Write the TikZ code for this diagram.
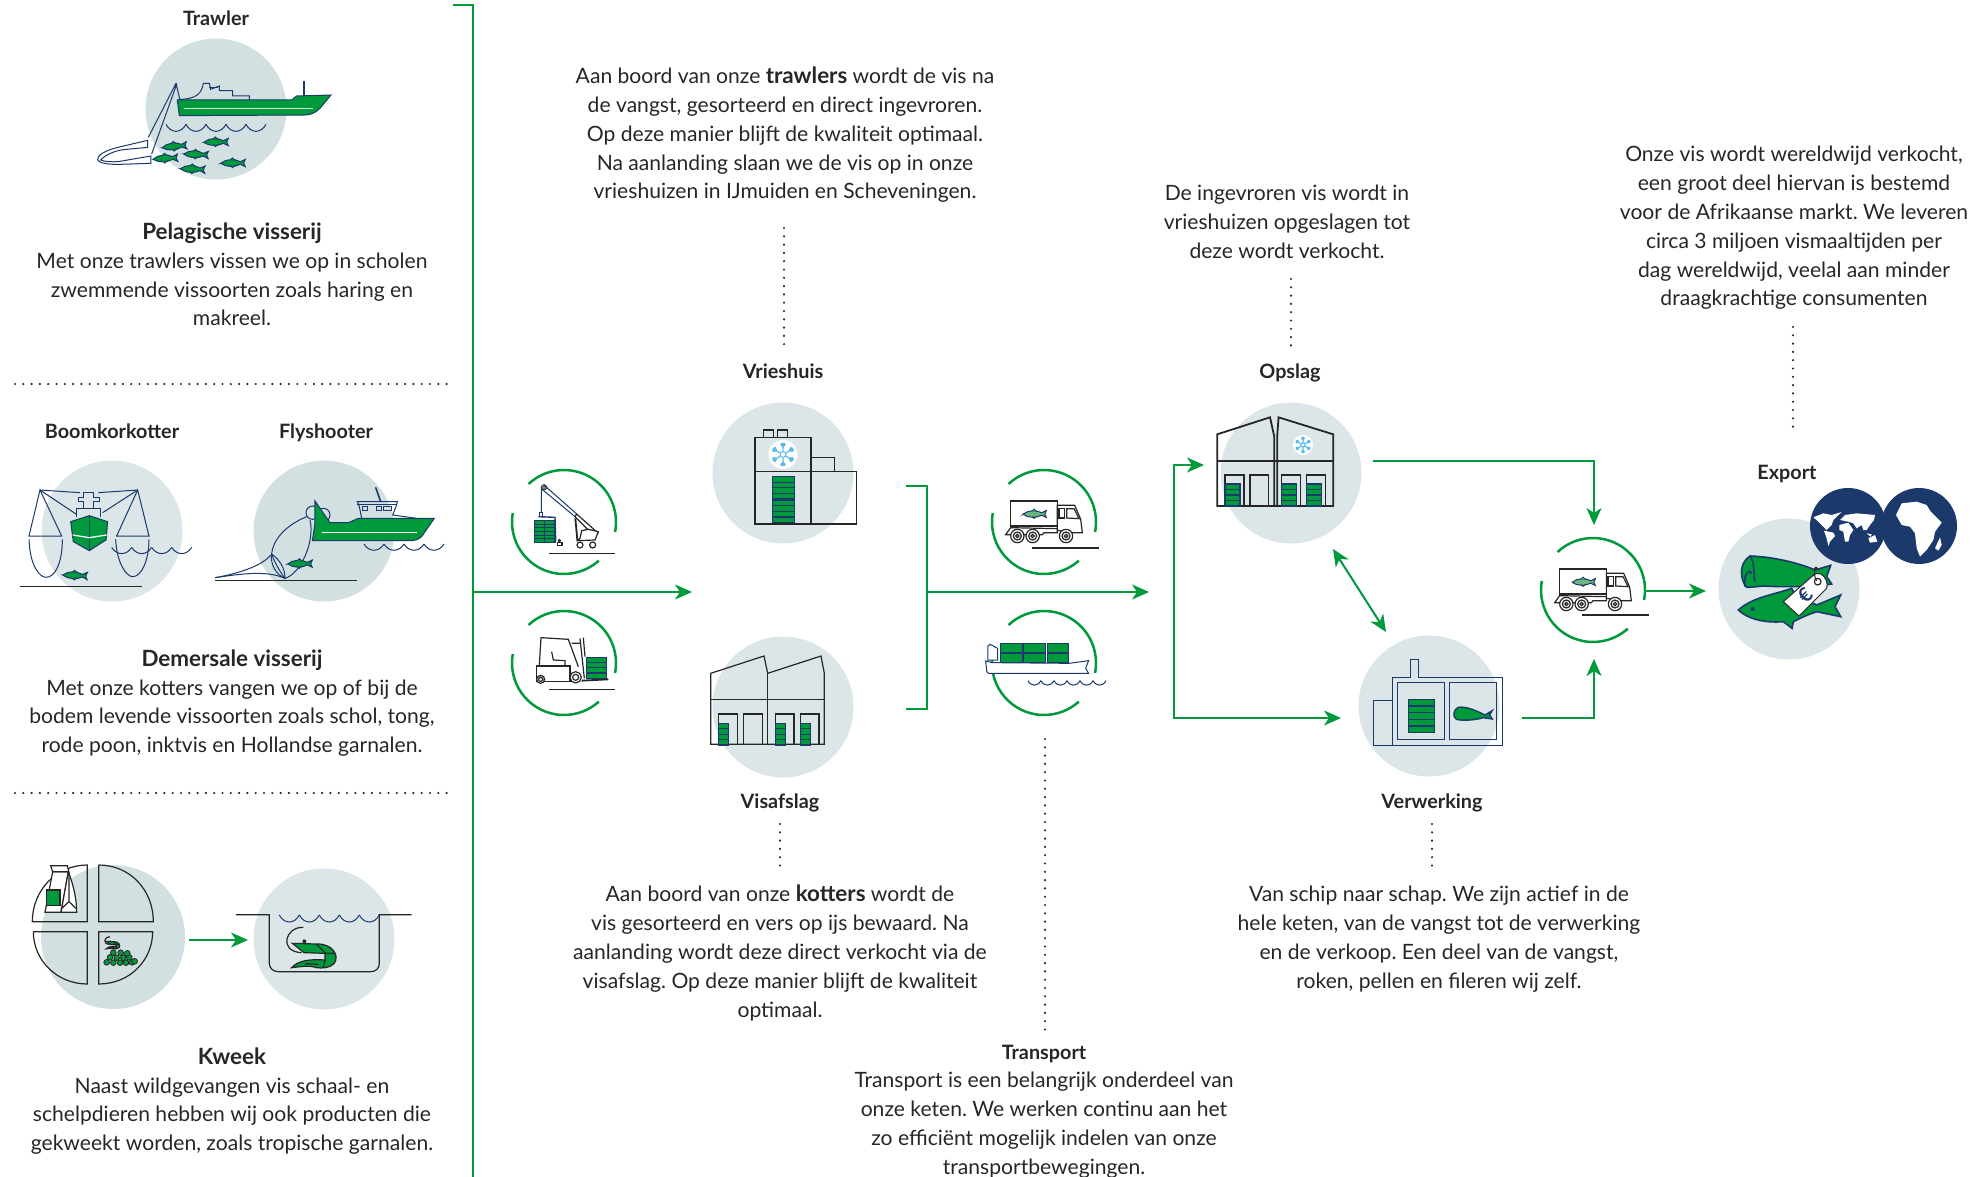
\documentclass[tikz,border=0pt]{standalone}
\usepackage{fontspec}
\setmainfont{Lato}
\usetikzlibrary{arrows.meta,calc}
\definecolor{gr}{HTML}{009A3D}
\definecolor{nv}{HTML}{1B3A6B}
\definecolor{dk}{HTML}{262626}
\definecolor{disc1}{HTML}{D3E0E2}
\definecolor{disc2}{HTML}{DCE5E8}
\definecolor{sky}{HTML}{5BBCEB}
\definecolor{lgr}{HTML}{6DB57F}
\newcommand{\bb}[1]{{\fontsize{11.2}{14.4}\selectfont\bfseries #1}}
\tikzset{
 txt/.style={align=center,inner sep=0pt,text=dk,font=\fontsize{10.55}{14.4}\selectfont\frenchspacing},
 lab/.style={inner sep=0pt,text=dk,text height=9.5pt,text depth=2pt,font=\fontsize{9.9}{11}\selectfont\bfseries},
 disc/.style={circle,inner sep=0pt,minimum size=70.5pt,fill=#1},
 disc/.default=disc2,
 flow/.style={draw=gr,line width=1pt,-{Stealth[length=8.5pt,width=7.5pt,inset=2.5pt]}},
 flowtwo/.style={draw=gr,line width=1pt,{Stealth[length=8.5pt,width=7.5pt,inset=2.5pt]}-{Stealth[length=8.5pt,width=7.5pt,inset=2.5pt]}},
 plain/.style={draw=gr,line width=1pt},
 ringline/.style={draw=gr,line width=1.25pt},
 dots/.style={draw=dk,line width=1.2pt,line cap=round,dash pattern=on 0pt off 4.15pt},
 nl/.style={draw=nv,line width=.5pt},
 dl/.style={draw=dk,line width=.6pt},
 za/.style={shift={(0,0)},scale=.33333},
 zb/.style={shift={(0,400)},scale=.33333},
 zc/.style={shift={(0,800)},scale=.33333},
 zd/.style={shift={(470,370)},scale=.33333},
 ze/.style={shift={(960,370)},xscale=.35714,yscale=.33333},
 zg/.style={shift={(1720,480)},scale=.33333},
}
\newcommand{\fishicon}[5]{\begin{scope}[shift={(#1,#2)},scale=#3,rotate=#4]
 \draw[nl,fill=#5] (-37,2) .. controls (-20,-12) and (5,-12) .. (22,-3) -- (37,-10) -- (32,2) -- (37,12) -- (22,5) .. controls (5,14) and (-20,14) .. cycle;
 \draw[nl,fill=#5] (-8,-8) -- (-2,-14) -- (6,-7); \draw[nl,fill=#5] (-6,9) -- (-2,15) -- (6,8);
\end{scope}}
\newcommand{\stackbox}[5]{\draw[nl,fill=gr,line width=.6pt] (#1,#2) rectangle (#3,#4);
 \pgfmathtruncatemacro\nnk{#5-1}\foreach \k in {1,...,\nnk}{\draw[nl,line width=.6pt] ({#1},{#2+(#4-#2)*\k/#5}) -- ({#3},{#2+(#4-#2)*\k/#5});}}
\newcommand{\wavy}[5]{\foreach \k in {1,...,#3}{\draw[nl] ({#1+(\k-1)*#4},#2) .. controls ({#1+(\k-1)*#4+#4*.25},{#2+#5}) and ({#1+(\k-1)*#4+#4*.75},{#2+#5}) .. ({#1+\k*#4},#2);}}
\newcommand{\ringicon}[3]{\begin{scope}[shift={(#2,#3)}]
 \coordinate (#1) at (0,0);
 \draw[ringline] (133:26pt) arc[start angle=133,end angle=-11,radius=26pt];
 \draw[ringline] (170:26pt) arc[start angle=170,end angle=312,radius=26pt];
\end{scope}}
\newcommand{\flake}[3]{\begin{scope}[shift={(#1,#2)},scale=#3]
 \fill[white] (0,0) circle (1);
 \foreach \a in {0,60,...,300}{\begin{scope}[rotate=\a+30]
  \draw[sky,line width=.6pt] (.2,0) -- (.8,0) (.5,0) -- (.72,.17) (.5,0) -- (.72,-.17) (.68,0) -- (.8,.1) (.68,0) -- (.8,-.1);
 \end{scope}}
 \draw[sky,line width=.5pt] (0,0) circle (.2);
\end{scope}}
\newcommand{\truckicon}[2]{\begin{scope}[shift={(#1,#2)},scale=.33333,shift={(-280,-420)}]
 \fill[white] (180,357) rectangle (320,432);
 \draw[dl] (180,357) rectangle (320,432);
 \draw[dl,fill=white] (320,370) -- (372,370) -- (390,412) -- (395,452) -- (365,452) -- (320,445) -- cycle;
 \draw[dl] (325,380) rectangle (342,408);
 \draw[dl] (348,380) -- (370,380) -- (385,410) -- (348,408) -- cycle;
 \draw[dl,fill=white] (165,458) -- (180,437) -- (320,440) -- (320,452) -- (280,452) -- (275,458) -- cycle;
 \foreach \w in {200,246,346}{\draw[dl,fill=white] (\w,462) circle (20); \draw[dl] (\w,462) circle (12); \draw[dl] (\w,462) circle (5);}
 \fishicon{252}{395}{.95}{0}{lgr}
\end{scope}}
\newcommand{\shrimpicon}[3]{\begin{scope}[shift={(#1,#2)},scale=#3]
 \draw[dl] (-35,-83) .. controls (-90,-85) and (-110,-10) .. (-40,-7);
 \draw[dl,fill=gr] (-68,-35) -- (5,-33) .. controls (50,-35) and (75,0) .. (58,25) .. controls (45,40) and (20,40) .. (5,38) .. controls (-20,30) and (-40,35) .. (-70,38) .. controls (-50,15) and (-10,12) .. (30,15) -- (30,-5) -- (-33,-7) -- cycle;
 \draw[dl] (5,-33) .. controls (15,-20) and (25,-15) .. (30,-5) -- (60,-5) (-30,26) -- (10,28) (30,15) -- (25,38);
 \fill[dk] (-32,-41) circle (6);
\end{scope}}
\begin{document}
\begin{tikzpicture}[x=.5pt,y=-.5pt]
\useasboundingbox (0,0) rectangle (1987,1177);
% discs
\node[disc=disc1] (dTrawl) at (216,109) {};
\node[disc] (dBoom) at (112,531) {};
\node[disc=disc1] (dFly) at (324,531) {};
\node[disc=disc1,minimum size=72pt] (dPlate) at (113,937) {};
\node[disc] (dTank) at (324,939) {};
\node[disc] (dVries) at (783,473) {};
\node[disc] (dVis) at (783,707) {};
\node[disc] (dOps) at (1291,473) {};
\node[disc] (dVerw) at (1429,706) {};
\node[disc] (dExp) at (1789,589) {};
% left-column separators
\coordinate (s1a) at (15,384); \coordinate (s1b) at (452,384);
\coordinate (s2a) at (15,793); \coordinate (s2b) at (452,793);
\draw[dots] (s1a) -- (s1b);
\draw[dots] (s2a) -- (s2b);
% connectors
\coordinate (spT) at (453,5); \coordinate (spC) at (473,5); \coordinate (spB) at (473,1177);
\coordinate (spM) at (473,592); \coordinate (a1) at (692,592);
\draw[plain] (spT) -- (spC) -- (spB);
\draw[flow] (spM) -- (a1);
\coordinate (brT) at (906,486); \coordinate (brB) at (906,709); \coordinate (brC) at (927,592); \coordinate (a2) at (1149,592);
\draw[plain] (brT) -| (brC) |- (brB);
\draw[flow] (brC) -- (a2);
\coordinate (f1) at (1174,465); \coordinate (f2) at (1174,718); \coordinate (tOps) at (1204,465); \coordinate (tVerw) at (1341,718);
\draw[flow] (f2) |- (tOps);
\draw[flow] (f1) |- (tVerw);
\coordinate (o1) at (1373,461); \coordinate (o2) at (1594,525);
\draw[flow] (o1) -| (o2);
\coordinate (v1) at (1522,718); \coordinate (v2) at (1594,659);
\draw[flow] (v1) -| (v2);
\coordinate (d1) at (1333,549); \coordinate (d2) at (1386,632);
\draw[flowtwo] (d1) -- (d2);
\coordinate (e1) at (1646,591); \coordinate (e2) at (1706,591);
\draw[flow] (e1) -- (e2);
\coordinate (k1) at (189,940); \coordinate (k2) at (248,940);
\draw[flow] (k1) -- (k2);
% dotted leaders
\coordinate (l1a) at (784,228); \coordinate (l1b) at (784,348); \draw[dots] (l1a) -- (l1b);
\coordinate (l2a) at (780,824); \coordinate (l2b) at (780,872); \draw[dots] (l2a) -- (l2b);
\coordinate (l3a) at (1045,739); \coordinate (l3b) at (1045,1032); \draw[dots] (l3a) -- (l3b);
\coordinate (l4a) at (1291,279); \coordinate (l4b) at (1291,348); \draw[dots] (l4a) -- (l4b);
\coordinate (l5a) at (1432,824); \coordinate (l5b) at (1432,872); \draw[dots] (l5a) -- (l5b);
\coordinate (l6a) at (1793,327); \coordinate (l6b) at (1793,431); \draw[dots] (l6a) -- (l6b);
% rings
\ringicon{rCrane}{564}{522}
\ringicon{rFork}{564}{663}
\ringicon{rTruck}{1044}{522}
\ringicon{rShip}{1044}{663}
\ringicon{rTruckB}{1593}{590}
% trawler
\begin{scope}[za]
 \draw[nl] (535,298) .. controls (590,298) and (605,280) .. (610,250) -- (628,250) -- (632,268) -- (658,258) -- (658,272) -- (698,272) -- (698,288) -- (748,288) -- (748,300);
 \draw[nl] (628,262) -- (655,262);
 \draw[nl,line width=1pt] (912,243) -- (912,288);
 \draw[nl,fill=gr] (532,300) -- (875,300) -- (890,288) -- (993,285) -- (960,325) .. controls (945,340) and (930,345) .. (915,345) -- (538,347) -- cycle;
 \draw[white,opacity=.8,line width=.7pt] (552,326) -- (938,326);
 \wavy{498}{373}{5}{60}{28}
 \draw[nl] (528,250) -- (445,412) (531,250) -- (455,462) (528,250) -- (540,300);
 \draw[nl,fill=white] (443,421) -- (350,443) .. controls (315,452) and (293,465) .. (293,478) .. controls (293,490) and (330,494) .. (360,493) -- (453,490) -- (453,468) -- (360,484) .. controls (335,487) and (315,485) .. (302,480) .. controls (315,465) and (345,452) .. (370,449) -- (443,442) -- cycle;
 \fishicon{523}{438}{1}{5}{gr}
 \fishicon{648}{425}{1}{0}{gr}
 \fishicon{588}{462}{1}{-3}{gr}
 \fishicon{496}{474}{1}{3}{gr}
 \fishicon{578}{506}{1}{-3}{gr}
 \fishicon{699}{488}{1}{0}{gr}
\end{scope}
% boomkorkotter
\begin{scope}[zb]
 \draw[nl] (120,270) -- (240,278) (295,278) -- (413,270) (120,270) -- (228,342) (413,270) -- (308,338);
 \draw[nl] (120,270) -- (87,408) -- (185,408) -- cycle;
 \draw[nl] (413,270) -- (447,408) -- (350,408) -- cycle;
 \draw[nl] (87,418) .. controls (90,500) and (120,532) .. (138,532) .. controls (165,532) and (187,490) .. (187,418);
 \draw[nl] (347,418) .. controls (350,490) and (380,530) .. (398,530) .. controls (425,530) and (447,480) .. (447,418);
 \draw[nl] (252,277) -- (280,277) -- (280,292) -- (300,292) -- (300,303) -- (282,303) -- (282,325) -- (252,325) -- (252,303) -- (236,303) -- (236,292) -- (252,292) -- cycle;
 \draw[nl] (230,352) -- (230,325) -- (303,325) -- (303,352);
 \draw[nl,fill=gr] (212,365) -- (268,347) -- (323,365) -- (318,420) -- (268,452) -- (220,425) -- cycle;
 \draw[nl] (268,347) -- (268,452);
 \draw[white,line width=.6pt] (218,405) -- (268,413) -- (320,405);
 \wavy{335}{442}{4}{60}{25}
 \fishicon{225}{525}{1}{-3}{gr}
 \draw[dl] (60,560) -- (425,560);
\end{scope}
% flyshooter
\begin{scope}[zb]
 \draw[nl] (938,338) circle (20) (970,345) circle (20);
 \draw[nl] (1085,355) -- (1078,320) -- (1072,305) -- (1192,305) -- (1188,320) -- (1178,345) -- (1250,355);
 \draw[nl] (1072,312) -- (1192,312);
 \draw[nl] (1087,318) rectangle (1102,332) (1130,318) rectangle (1145,332) (1150,318) rectangle (1175,332);
 \draw[nl,line width=.8pt] (1127,262) -- (1142,305);
 \draw[nl,fill=gr] (945,303) -- (990,368) -- (1045,368) -- (1075,355) -- (1303,355) -- (1265,410) .. controls (1255,418) and (1245,422) .. (1235,422) -- (937,422) -- (945,370) -- cycle;
 \draw[white,line width=.6pt] (965,397) -- (1250,397);
 \wavy{1092}{432}{4}{60}{25}
 \draw[nl] (920,350) .. controls (860,375) and (820,415) .. (815,462) .. controls (825,490) and (840,515) .. (855,535);
 \draw[nl] (645,533) .. controls (720,520) and (790,495) .. (812,465);
 \draw[nl] (645,533) .. controls (720,522) and (800,510) .. (855,535);
 \draw[nl] (815,462) .. controls (810,495) and (830,525) .. (855,535) .. controls (855,505) and (840,480) .. (815,462);
 \draw[nl] (930,360) .. controls (945,420) and (905,520) .. (855,535);
 \fishicon{900}{490}{1}{0}{gr}
 \draw[dl] (645,541) -- (1070,541);
\end{scope}
% plate
\begin{scope}[zc]
 \draw[dl] (97,365) .. controls (97,270) and (170,195) .. (262,195) -- (262,365) -- cycle;
 \draw[dl] (296,195) -- (296,365) -- (460,365) .. controls (460,270) and (390,195) .. (296,195);
 \draw[dl] (100,395) -- (262,395) -- (262,552) .. controls (170,552) and (100,480) .. (100,395);
 \draw[dl] (296,395) -- (458,395) .. controls (458,480) and (390,552) .. (296,552) -- cycle;
 \draw[dl,fill=white] (135,337) -- (158,215) -- (205,215) -- (183,337) -- cycle;
 \draw[dl,fill=white] (183,337) -- (205,215) .. controls (222,260) and (230,300) .. (230,337) -- cycle;
 \draw[dl] (183,327) -- (207,305) -- (230,327) (207,215) -- (207,305);
 \draw[dl,fill=white] (152,197) -- (202,197) -- (206,215) -- (158,215) -- cycle;
 \draw[dl,fill=gr] (140,270) rectangle (180,317);
 \shrimpicon{340}{435}{.3}
 \foreach \x/\y in {320/487,340/488,360/488,378/488,396/487,404/484,330/472,350/473,370/473,388/472,340/458,362/458,382/460}{\draw[dk,line width=.4pt,fill=gr] (\x,\y) circle (8.5);}
 \draw[dl] (708,344) -- (808,344) -- (808,490) .. controls (808,505) and (820,515) .. (835,515) -- (1112,515) .. controls (1128,515) and (1138,505) .. (1138,490) -- (1138,344) -- (1235,344);
 \wavy{838}{345}{5}{60}{28}
 \shrimpicon{945}{465}{1}
\end{scope}
% crane
\begin{scope}[zd]
 \draw[dk,fill=gray] (222,352) circle (8);
 \draw[nl] (222,345) -- (320,432) (215,357) -- (315,440) (214,352) -- (214,430);
 \draw[dl] (320,432) -- (385,490) (315,440) -- (365,490) (315,440) -- (320,432);
 \draw[nl,fill=white] (208,428) rectangle (218,440);
 \draw[nl,line width=.7pt] (205,440) -- (255,442) -- (257,510);
 \stackbox{193}{452}{224}{517}{6}
 \stackbox{224}{452}{255}{517}{6}
 \draw[dk,line width=.9pt] (316,445) -- (322,510);
 \draw[dl,fill=white] (322,512) -- (330,505) -- (335,482) -- (355,478) -- (385,485) -- (375,510) -- cycle;
 \draw[dl,fill=white] (330,525) circle (9) (368,525) circle (9);
 \draw[dk,fill=dk] (268,512) circle (4);
 \draw[dl] (262,518) rectangle (276,527);
 \coordinate (g1a) at (237,551); \coordinate (g1b) at (436,551); \draw[dl] (g1a) -- (g1b);
 % forklift
 \draw[dl] (330,805) -- (343,925) (340,803) -- (345,860);
 \draw[dl] (208,885) -- (213,803) -- (295,808) -- (325,890);
 \draw[dl] (305,820) -- (330,820) (245,845) -- (250,870) -- (285,872) -- (285,885);
 \draw[dl,fill=white] (200,888) -- (300,888) -- (300,935) -- (200,935) -- cycle;
 \draw[dl,fill=white] (212,928) circle (12) (212,928) circle (6);
 \draw[dl,fill=white] (317,922) circle (17) (317,922) circle (9);
 \stackbox{350}{862}{410}{925}{4}
 \draw[dk,line width=.9pt] (335,932) -- (415,928);
 \coordinate (g2a) at (237,958); \coordinate (g2b) at (436,958); \draw[dl] (g2a) -- (g2b);
 % vrieshuis
 \draw[dl] (855,203) rectangle (1023,462);
 \draw[dl] (855,304) -- (1160,304) -- (1160,462) -- (855,462);
 \draw[dl] (880,205) -- (880,180) -- (910,180) -- (910,205) (923,205) -- (923,180) -- (953,180) -- (953,205);
 \draw[dl] (1023,304) -- (1023,263) -- (1093,263) -- (1093,304);
 \stackbox{907}{320}{973}{386}{4}
 \stackbox{907}{390}{973}{458}{4}
 % visafslag
 \draw[dl] (722,1123) -- (722,910) -- (882,858) -- (893,910) -- (1053,858) -- (1063,910) -- (1063,1123) -- cycle;
 \draw[dl] (893,910) -- (893,1123) (722,988) -- (1063,988);
 \draw[dl] (746,1123) -- (746,1032) -- (802,1032) -- (802,1123);
 \draw[dl] (821,1123) -- (821,1032) -- (877,1032) -- (877,1123);
 \draw[dl] (916,1123) -- (916,1032) -- (972,1032) -- (972,1123);
 \draw[dl] (991,1123) -- (991,1032) -- (1047,1032) -- (1047,1123);
 \stackbox{746}{1060}{776}{1125}{4}
 \stackbox{916}{1060}{946}{1125}{4}
 \stackbox{991}{1060}{1021}{1125}{4}
\end{scope}
\flake{783}{454.5}{14.5}
% trucks
\truckicon{1044}{522}
\truckicon{1593}{590}
\coordinate (g3a) at (1032,548); \coordinate (g3b) at (1099,548); \draw[dl] (g3a) -- (g3b);
\coordinate (g4a) at (1582,615); \coordinate (g4b) at (1649,615); \draw[dl] (g4a) -- (g4b);
% ship, opslag, verwerking
\begin{scope}[ze]
 \foreach \x/\X in {112/174,177/240,245/305}{
  \draw[nl,fill=gr] (\x,820) rectangle (\X,846);
  \draw[nl,fill=gr] (\x,850) rectangle (\X,877);}
 \draw[nl,fill=white] (78,870) -- (78,828) -- (85,823) -- (105,835) -- (105,870) -- cycle;
 \draw[nl,fill=white] (72,873) -- (75,905) -- (80,910) -- (360,910) -- (352,895) -- (360,872) -- (305,880) -- (90,878) -- cycle;
 \wavy{190}{932}{6}{36.5}{18}
 % opslag
 \draw[dk,line width=.9pt] (880,408) -- (880,200) -- (868,142) -- (720,193) -- (720,408) -- (1045,408) -- (1045,193) -- (892,142) -- (888,200) -- (888,408);
 \draw[dk,line width=.9pt] (720,272) -- (1045,272);
 \foreach \x/\X in {742/795,812/864,900/953,970/1023}{\draw[dk,line width=.7pt] (\x,408) -- (\x,315) -- (\X,315) -- (\X,408);}
 \stackbox{742}{342}{784}{408}{4}
 \stackbox{900}{342}{943}{408}{4}
 \stackbox{970}{342}{1013}{408}{4}
 % verwerking
 \draw[nl] (1210,1125) -- (1518,1125) -- (1518,922) -- (1283,922) -- (1283,868) -- (1262,868) -- (1262,922) -- (1210,922) -- cycle;
 \draw[nl] (1157,1125) rectangle (1210,991);
 \draw[nl] (1225,938) rectangle (1357,1108) (1370,938) rectangle (1503,1108);
 \stackbox{1255}{988}{1328}{1088}{5}
 \draw[nl,line width=.7pt,fill=gr] (1395,1012) .. controls (1420,1008) and (1450,1025) .. (1470,1035) -- (1490,1022) -- (1483,1035) -- (1490,1047) -- (1465,1043) .. controls (1440,1052) and (1400,1052) .. (1390,1048) .. controls (1378,1040) and (1382,1018) .. (1395,1012) -- cycle;
\end{scope}
\flake{1303}{445}{10}
% export
\node[circle,inner sep=0pt,minimum size=38pt,fill=nv] (gl1) at (1848,526) {};
\node[circle,inner sep=0pt,minimum size=38pt,fill=nv] (gl2) at (1919,526) {};
\begin{scope}[zg]
 \fill[white] (280,112) -- (310,100) -- (335,105) -- (365,96) -- (350,110) -- (340,120) -- (335,135) -- (320,150) -- (305,135) -- (295,125) -- cycle;
 \fill[white] (312,152) -- (340,158) -- (345,168) -- (330,185) -- (325,198) -- (320,175) -- cycle;
 \fill[white] (360,120) -- (375,105) -- (410,100) -- (465,105) -- (462,120) -- (450,135) -- (440,150) -- (430,150) -- (425,135) -- (410,145) -- (400,130) -- (385,125) -- cycle;
 \fill[white] (358,135) -- (385,128) -- (400,150) -- (390,165) -- (385,185) -- (375,185) -- (370,155) -- (358,150) -- cycle;
 \fill[white] (440,160) -- (455,163) -- (452,170) -- cycle;
 \fill[white] (445,175) -- (465,165) -- (472,185) -- (450,188) -- cycle;
 \fill[white] (528,105) -- (545,70) -- (590,65) -- (620,75) -- (632,95) -- (665,128) -- (645,155) -- (640,180) -- (620,210) -- (600,230) -- (590,205) -- (585,160) -- (570,140) -- (545,135) -- cycle;
 \fill[white] (645,205) -- (660,172) -- (665,195) -- (655,212) -- cycle;
 \draw[nv,line width=.8pt,fill=gr] (90,228) .. controls (160,230) and (240,250) .. (285,270) -- (332,256) -- (320,290) -- (335,312) .. controls (280,320) and (200,322) .. (130,318) .. controls (110,320) and (90,322) .. (80,322) .. controls (60,300) and (55,250) .. (90,228) -- cycle;
 \draw[nv,line width=.8pt] (90,228) .. controls (105,245) and (100,290) .. (105,305) (75,320) .. controls (70,285) and (85,265) .. (95,280);
 \draw[nv,line width=.8pt,fill=gr] (55,390) .. controls (100,350) and (160,345) .. (215,325) -- (225,345) -- (290,375) -- (362,345) -- (345,380) -- (362,410) -- (290,395) .. controls (260,405) and (240,415) .. (220,425) -- (216,445) -- (190,425) .. controls (130,430) and (80,415) .. (55,390) -- cycle;
 \fill[nv] (98,387) circle (6);
 \draw[dk,line width=.5pt,fill=white] (190,365) -- (275,290) .. controls (285,280) and (295,278) .. (303,282) .. controls (318,292) and (325,310) .. (320,325) -- (237,408) -- cycle;
 \draw[dk,line width=.5pt] (285,265) .. controls (280,280) and (285,295) .. (290,302);
 \draw[dk,line width=.5pt] (288,265) circle (4);
 \draw[dk,line width=.6pt] (293,305) circle (10);
 \node[rotate=45,text=nv,inner sep=0pt,font=\fontsize{10}{10}\selectfont\bfseries] (eur) at (255,347) {€};
\end{scope}
% labels
\node[lab] (tTrawler) at (216,18) {Trawler};
\node[lab] (tBoom) at (112,431) {Boomkorkotter};
\node[lab] (tFly) at (326,431) {Flyshooter};
\node[lab] (tVries) at (783,371) {Vrieshuis};
\node[lab] (tVis) at (780,801) {Visafslag};
\node[lab] (tOps) at (1290,371) {Opslag};
\node[lab] (tVerw) at (1432,801) {Verwerking};
\node[lab] (tExp) at (1787,472) {Export};
\node[lab] (tTrans) at (1044,1052) {Transport};
% texts
\node[txt] (tPel) at (232,274.5) {\bb{Pelagische visserij}\\Met onze trawlers vissen we op in scholen\\zwemmende vissoorten zoals haring en\\makreel.};
\node[txt] (tDem) at (232,703) {\bb{Demersale visserij}\\Met onze kotters vangen we op of bij de\\bodem levende vissoorten zoals schol, tong,\\rode poon, inktvis en Hollandse garnalen.};
\node[txt] (tKw) at (232,1101) {\bb{Kweek}\\Naast wildgevangen vis schaal- en\\schelpdieren hebben wij ook producten die\\gekweekt worden, zoals tropische garnalen.};
\node[txt] (tA) at (785,135) {Aan boord van onze \bb{trawlers} wordt de vis na\\de vangst, gesorteerd en direct ingevroren.\\Op deze manier blijft de kwaliteit optimaal.\\Na aanlanding slaan we de vis op in onze\\vrieshuizen in IJmuiden en Scheveningen.};
\node[txt] (tB) at (780,953) {Aan boord van onze \bb{kotters} wordt de\\vis gesorteerd en vers op ijs bewaard. Na\\aanlanding wordt deze direct verkocht via de\\visafslag. Op deze manier blijft de kwaliteit\\optimaal.};
\node[txt] (tC) at (1044,1125) {Transport is een belangrijk onderdeel van\\onze keten. We werken continu aan het\\zo efficiënt mogelijk indelen van onze\\transportbewegingen.};
\node[txt] (tD) at (1287,222) {De ingevroren vis wordt in\\vrieshuizen opgeslagen tot\\deze wordt verkocht.};
\node[txt] (tE) at (1439,939) {Van schip naar schap. We zijn actief in de\\hele keten, van de vangst tot de verwerking\\en de verkoop. Een deel van de vangst,\\roken, pellen en fileren wij zelf.};
\node[txt] (tF) at (1794,228) {Onze vis wordt wereldwijd verkocht,\\een groot deel hiervan is bestemd\\voor de Afrikaanse markt. We leveren\\circa 3 miljoen vismaaltijden per\\dag wereldwijd, veelal aan minder\\draagkrachtige consumenten};
\end{tikzpicture}
\end{document}
